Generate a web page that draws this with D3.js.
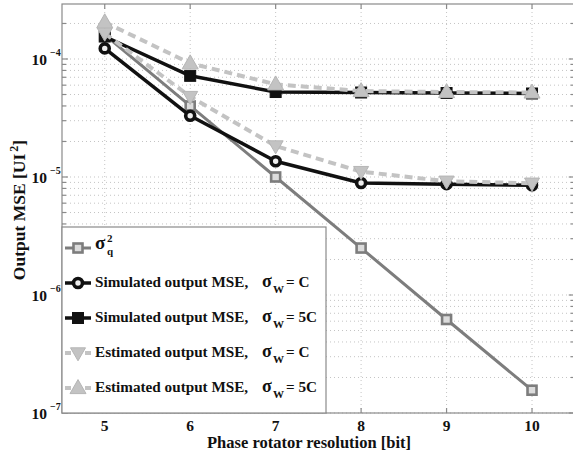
<!DOCTYPE html>
<html>
<head>
<meta charset="utf-8">
<script src="https://cdn.jsdelivr.net/npm/d3@7"></script>
<style>
  html, body { margin: 0; padding: 0; background: #fff; }
  svg { display: block; }
  text { font-family: "Liberation Serif", "Times New Roman", serif; font-weight: bold; fill: #111; }
</style>
</head>
<body>
<svg id="chart" width="573" height="453"></svg>
<script>
// Phase rotator resolution (bits) and output MSE values [UI^2]
const bits = [5, 6, 7, 8, 9, 10];
const quantNoise = [1.6e-4, 4.0e-5, 1.0e-5, 2.5e-6, 6.2e-7, 1.56e-7];
const simC = [1.23e-4, 3.3e-5, 1.36e-5, 8.9e-6, 8.7e-6, 8.5e-6];
const sim5C = [1.55e-4, 7.2e-5, 5.25e-5, 5.2e-5, 5.15e-5, 5.1e-5];
const estC = [1.65e-4, 4.8e-5, 1.83e-5, 1.11e-5, 9.2e-6, 8.85e-6];
const est5C = [2.05e-4, 9.2e-5, 6.1e-5, 5.35e-5, 5.25e-5, 5.2e-5];

const xTicks = [5, 6, 7, 8, 9, 10];
const yTickExps = [-4, -5, -6, -7];
const xLabel = "Phase rotator resolution [bit]";
const legendLabels = ["Simulated output MSE,", "Simulated output MSE,", "Estimated output MSE,", "Estimated output MSE,"];
const legendSigma = ["C", "5C", "C", "5C"];

const svg = d3.select("#chart");
const pLeft = 62, pTop = 4, pBottom = 413, pRight = 574.75;

const x = d3.scaleLinear().domain([4.5, 10.5]).range([pLeft, pRight]);
const y = d3.scaleLog().domain([1e-7, Math.pow(10, -3.534)]).range([pBottom, pTop]);

const gridColor = "#c4c4c4";
const axisColor = "#8a8a8a";

// grid
const grid = svg.append("g");
xTicks.forEach(t => {
  grid.append("line")
    .attr("x1", x(t)).attr("x2", x(t)).attr("y1", pTop).attr("y2", pBottom)
    .attr("stroke", gridColor).attr("stroke-width", 1).attr("stroke-dasharray", "1,3");
});
const minorVals = [];
for (let e = -7; e <= -4; e++) {
  for (let m = 1; m <= 9; m++) {
    const v = m * Math.pow(10, e);
    if (v <= y.domain()[1] * 1.0001) minorVals.push({ v, major: m === 1 });
  }
}
minorVals.forEach(d => {
  grid.append("line")
    .attr("x1", pLeft).attr("x2", pRight).attr("y1", y(d.v)).attr("y2", y(d.v))
    .attr("stroke", gridColor).attr("stroke-width", 1).attr("stroke-dasharray", "1,3");
});

// axes frame and ticks
const axes = svg.append("g").attr("stroke", axisColor).attr("stroke-width", 1.2);
axes.append("rect").attr("x", pLeft).attr("y", pTop).attr("width", pRight - pLeft).attr("height", pBottom - pTop)
  .attr("fill", "none");
xTicks.forEach(t => {
  axes.append("line").attr("x1", x(t)).attr("x2", x(t)).attr("y1", pTop).attr("y2", pTop + 5);
  axes.append("line").attr("x1", x(t)).attr("x2", x(t)).attr("y1", pBottom).attr("y2", pBottom - 5);
});
minorVals.forEach(d => {
  const len = d.major ? 6 : 4;
  axes.append("line").attr("x1", pLeft).attr("x2", pLeft + len).attr("y1", y(d.v)).attr("y2", y(d.v));
  axes.append("line").attr("x1", pRight).attr("x2", pRight - len).attr("y1", y(d.v)).attr("y2", y(d.v));
});

// tick labels
xTicks.forEach(t => {
  svg.append("text").attr("x", x(t)).attr("y", 431).attr("text-anchor", "middle")
    .attr("font-size", 15.5).text(t);
});
yTickExps.forEach(e => {
  const yy = y(Math.pow(10, e));
  svg.append("text").attr("x", 47).attr("y", yy + 6).attr("text-anchor", "end")
    .attr("font-size", 15.5).text("10");
  svg.append("text").attr("x", 50).attr("y", yy - 3).attr("font-size", 10).text("\u2212" + (-e));
});

// axis titles
svg.append("text").attr("x", 309).attr("y", 448).attr("text-anchor", "middle")
  .attr("font-size", 16.5).text(xLabel);
const yt = svg.append("text").attr("transform", "translate(25,210) rotate(-90)")
  .attr("text-anchor", "middle").attr("font-size", 17.5);
yt.append("tspan").text("Output MSE [UI");
yt.append("tspan").attr("font-size", 12).attr("dx", 2).attr("dy", -7).text("2");
yt.append("tspan").attr("dy", 7).text("]");

// marker shapes
function triPath(w, h, up) {
  return up
    ? `M0,${-h * 0.6}L${w / 2},${h * 0.4}L${-w / 2},${h * 0.4}Z`
    : `M0,${h * 0.6}L${w / 2},${-h * 0.4}L${-w / 2},${-h * 0.4}Z`;
}

const series = [
  { vals: quantNoise, color: "#7d7d7d", width: 3, dash: null, marker: "hsquare" },
  { vals: simC, color: "#111", width: 3.5, dash: null, marker: "circle" },
  { vals: sim5C, color: "#111", width: 3.5, dash: null, marker: "square" },
  { vals: estC, color: "#c3c3c3", width: 4, dash: "8,5", marker: "down" },
  { vals: est5C, color: "#c3c3c3", width: 4, dash: "8,5", marker: "up" }
];

function drawMarker(g, kind, color) {
  if (kind === "hsquare") {
    g.append("rect").attr("x", -4.5).attr("y", -4.5).attr("width", 9).attr("height", 9)
      .attr("fill", "#dcdcdc").attr("stroke", color).attr("stroke-width", 2.6);
  } else if (kind === "circle") {
    g.append("circle").attr("r", 4.5).attr("fill", "#eeeeee").attr("stroke", color).attr("stroke-width", 3.6);
  } else if (kind === "square") {
    g.append("rect").attr("x", -5.5).attr("y", -5.5).attr("width", 11).attr("height", 11)
      .attr("fill", color).attr("stroke", color).attr("stroke-width", 1);
  } else if (kind === "down") {
    g.append("path").attr("d", triPath(15, 13, false)).attr("fill", color)
      .attr("stroke", "#b5b5b5").attr("stroke-width", 1);
  } else if (kind === "up") {
    g.append("path").attr("d", triPath(16, 14, true)).attr("fill", color)
      .attr("stroke", "#b5b5b5").attr("stroke-width", 1);
  }
}

const line = d3.line().x(d => x(d[0])).y(d => y(d[1]));
const plot = svg.append("g");
series.forEach(s => {
  const pts = bits.map((b, i) => [b, s.vals[i]]);
  plot.append("path").attr("d", line(pts)).attr("fill", "none")
    .attr("stroke", s.color).attr("stroke-width", s.width)
    .attr("stroke-dasharray", s.dash).attr("stroke-linejoin", "round");
  pts.forEach(p => {
    const g = plot.append("g").attr("transform", `translate(${x(p[0])},${y(p[1])})`);
    drawMarker(g, s.marker, s.color);
  });
});

// legend
const leg = svg.append("g");
const legRight = 326, legTop = 227;
leg.append("rect").attr("x", pLeft).attr("y", legTop).attr("width", legRight - pLeft).attr("height", pBottom - legTop)
  .attr("fill", "#fff").attr("stroke", axisColor).attr("stroke-width", 1.2);
const rowY = [248, 283, 318, 353, 388];
series.forEach((s, i) => {
  const cy = rowY[i];
  leg.append("line").attr("x1", 65).attr("x2", 91).attr("y1", cy).attr("y2", cy)
    .attr("stroke", s.color).attr("stroke-width", s.width)
    .attr("stroke-dasharray", s.dash ? "6,4" : null);
  const g = leg.append("g").attr("transform", `translate(78,${cy})`);
  drawMarker(g, s.marker, s.color);
});
// first entry: sigma_q squared
leg.append("text").attr("x", 95).attr("y", 249).attr("font-size", 19).text("\u03c3");
leg.append("text").attr("x", 107).attr("y", 242).attr("font-size", 11).text("2");
leg.append("text").attr("x", 107).attr("y", 255).attr("font-size", 11).text("q");
legendLabels.forEach((lab, i) => {
  const cy = rowY[i + 1];
  leg.append("text").attr("x", 95).attr("y", cy + 4).attr("font-size", 15.2).text(lab);
  leg.append("text").attr("x", 262).attr("y", cy + 4).attr("font-size", 18).text("\u03c3");
  leg.append("text").attr("x", 273).attr("y", cy + 10).attr("font-size", 11).text("W");
  leg.append("text").attr("x", 286).attr("y", cy + 4).attr("font-size", 15.2).text("= " + legendSigma[i]);
});
</script>
</body>
</html>
